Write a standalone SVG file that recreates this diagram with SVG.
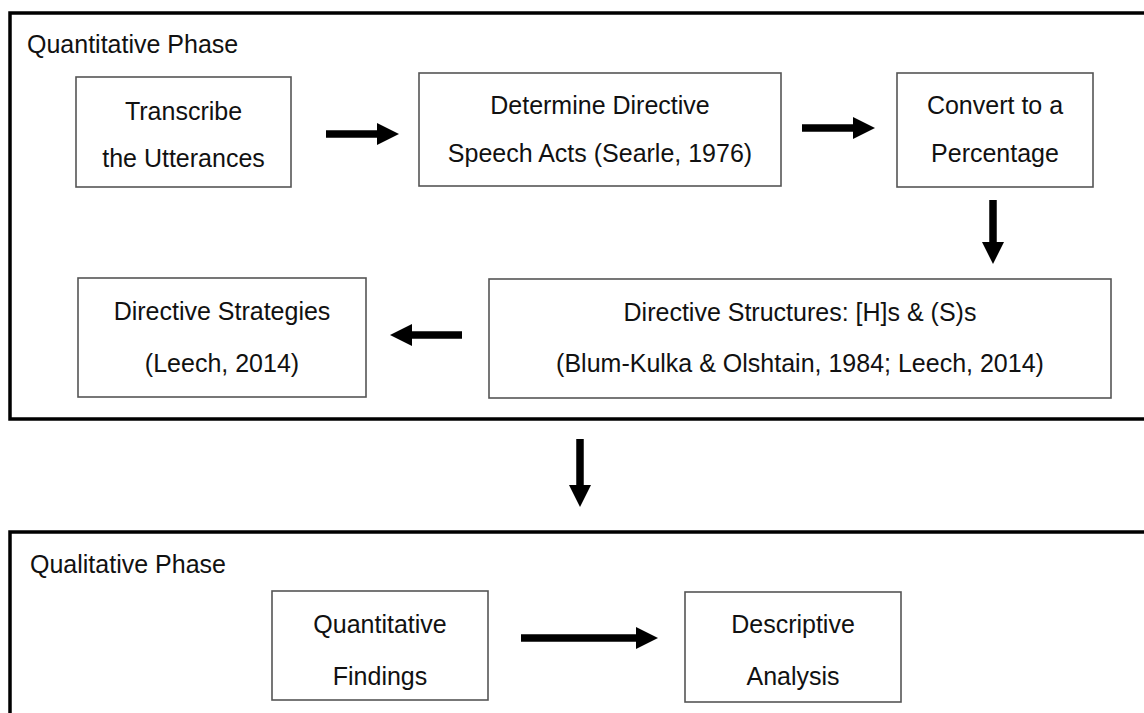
<svg xmlns="http://www.w3.org/2000/svg" width="1144" height="713" viewBox="0 0 1144 713">
  <style>
    .frame { fill: none; stroke: #000; stroke-width: 3.5; }
    .box { fill: #fff; stroke: #555; stroke-width: 1.6; }
    .label { font-family: "Liberation Sans", Arial, sans-serif; font-size: 25px; fill: #111; }
    .mid { text-anchor: middle; }
    .conn { stroke: #000; stroke-width: 7.5; fill: none; }
  </style>
  <defs>
    <marker id="head" viewBox="0 0 22 22" markerWidth="22" markerHeight="22" markerUnits="userSpaceOnUse" refX="0" refY="11" orient="auto">
      <path d="M0,0 L22,11 L0,22 Z" fill="#000"/>
    </marker>
  </defs>
  <rect width="1144" height="713" fill="#fff"/>

  <!-- phase frames -->
  <g id="quantitative-phase">
    <rect class="frame" x="10" y="13" width="1145" height="406"/>
    <text class="label" x="27" y="53">Quantitative Phase</text>
  </g>
  <g id="qualitative-phase">
    <rect class="frame" x="10" y="532" width="1145" height="200"/>
    <text class="label" x="30" y="573">Qualitative Phase</text>
  </g>

  <!-- process steps -->
  <g id="transcribe">
    <rect class="box" x="76" y="77" width="215" height="110"/>
    <text class="label mid" x="183.5" y="120">Transcribe</text>
    <text class="label mid" x="183.5" y="167">the Utterances</text>
  </g>
  <g id="determine">
    <rect class="box" x="419" y="73" width="362" height="113"/>
    <text class="label mid" x="600" y="114">Determine Directive</text>
    <text class="label mid" x="600" y="162">Speech Acts (Searle, 1976)</text>
  </g>
  <g id="convert">
    <rect class="box" x="897" y="73" width="196" height="114"/>
    <text class="label mid" x="995" y="114">Convert to a</text>
    <text class="label mid" x="995" y="162">Percentage</text>
  </g>
  <g id="structures">
    <rect class="box" x="489" y="279" width="622" height="119"/>
    <text class="label mid" x="800" y="321">Directive Structures: [H]s &amp; (S)s</text>
    <text class="label mid" x="800" y="372">(Blum-Kulka &amp; Olshtain, 1984; Leech, 2014)</text>
  </g>
  <g id="strategies">
    <rect class="box" x="78" y="278" width="288" height="119"/>
    <text class="label mid" x="222" y="320">Directive Strategies</text>
    <text class="label mid" x="222" y="372">(Leech, 2014)</text>
  </g>
  <g id="findings">
    <rect class="box" x="272" y="591" width="216" height="109"/>
    <text class="label mid" x="380" y="633">Quantitative</text>
    <text class="label mid" x="380" y="685">Findings</text>
  </g>
  <g id="analysis">
    <rect class="box" x="685" y="592" width="216" height="110"/>
    <text class="label mid" x="793" y="633">Descriptive</text>
    <text class="label mid" x="793" y="685">Analysis</text>
  </g>

  <!-- connectors -->
  <g id="connectors">
    <line class="conn" x1="326" y1="134" x2="377" y2="134" marker-end="url(#head)"/>
    <line class="conn" x1="802" y1="128" x2="853" y2="128" marker-end="url(#head)"/>
    <line class="conn" x1="993" y1="200" x2="993" y2="242" marker-end="url(#head)"/>
    <line class="conn" x1="462" y1="335" x2="412" y2="335" marker-end="url(#head)"/>
    <line class="conn" x1="580" y1="439" x2="580" y2="485" marker-end="url(#head)"/>
    <line class="conn" x1="521" y1="638" x2="636" y2="638" marker-end="url(#head)"/>
  </g>
</svg>
